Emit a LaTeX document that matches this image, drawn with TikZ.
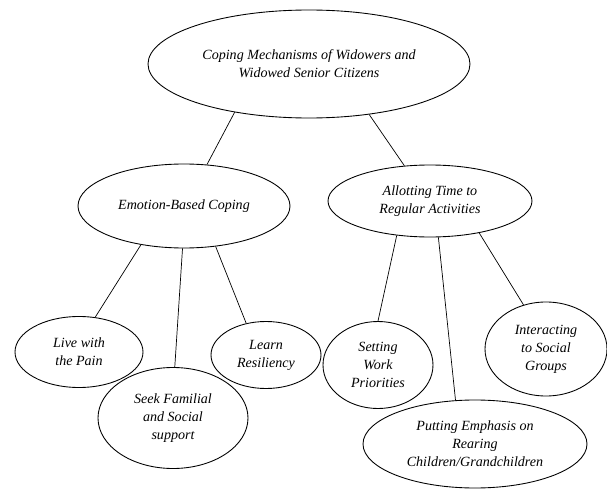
\documentclass[tikz,border=0pt]{standalone}
\usepackage{fontspec}
\setmainfont{Liberation Serif}
\usetikzlibrary{shapes.geometric}

\begin{document}
\begin{tikzpicture}[x=0.3mm, y=-0.3mm,
        bubble/.style 2 args={draw, ellipse, line width=0.75pt, inner sep=0pt, minimum width=#1*0.3mm, minimum height=#2*0.3mm, align=center, font=\itshape\fontsize{12}{15.5}\selectfont},
        link/.style={line width=0.6pt}]
            \useasboundingbox (0,0) rectangle (607,489);
            % main topic
            \node[bubble={322}{108}] (coping) at (309,64) {Coping Mechanisms of Widowers and\\Widowed Senior Citizens};
            % two themes
            \node[bubble={212}{84}] (emotion) at (184,206) {Emotion-Based Coping};
            \node[bubble={204}{72}] (allot) at (430,201) {Allotting Time to\\Regular Activities};
            % sub-themes
            \node[bubble={128}{71}] (pain) at (79,352) {Live with\\the Pain};
            \node[bubble={150}{101}] (seek) at (173,418) {Seek Familial\\and Social\\support};
            \node[bubble={110}{67}] (resil) at (266,355) {Learn\\Resiliency};
            \node[bubble={110}{87}] (work) at (378,365) {Setting\\Work\\Priorities};
            \node[bubble={224}{88}] (rear) at (475,444) {Putting Emphasis on\\Rearing\\Children/Grandchildren};
            \node[bubble={122}{94}] (groups) at (546,349) {Interacting\\to Social\\Groups};
            \draw[link] (coping.213) -- (emotion.61);
            \draw[link] (coping.320) -- (allot.126);
            \draw[link] (emotion.222) -- (pain.65);
            \draw[link] (emotion.268) -- (seek.88);
            \draw[link] (emotion.308) -- (resil.122);
            \draw[link] (allot.226) -- (work.90);
            \draw[link] (allot.283) -- (rear.114);
            \draw[link] (allot.327) -- (groups.117);
        \end{tikzpicture}
\end{document}
